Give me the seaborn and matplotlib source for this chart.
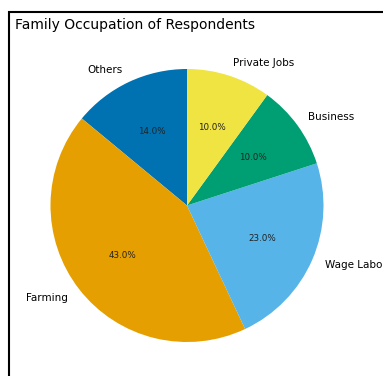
import matplotlib
matplotlib.use("Agg")
import matplotlib.pyplot as plt
import seaborn as sns
from matplotlib.patches import Rectangle

sns.set_style("white")
plt.rcParams['font.family'] = ['DejaVu Sans']
plt.rcParams['text.color'] = 'black'

categories = ["Others", "Farming", "Wage Labour", "Business", "Private Jobs"]
shares = [14.0, 43.0, 23.0, 10.0, 10.0]
colors = ["#0072B2", "#E69F00", "#56B4E9", "#009E73", "#F0E442"]

W, H = 383, 376
fig = plt.figure(figsize=(W / 100, H / 100), dpi=100)
fig.patch.set_facecolor("white")

L = 1.25
R = 136.5
cx, cy = 187, 205.5
aw = 2 * L * R
ax = fig.add_axes([(cx - aw / 2) / W, (H - cy - aw / 2) / H, aw / W, aw / H])
wedges, texts, autotexts = ax.pie(
    shares, labels=categories, colors=colors, startangle=90,
    autopct="%1.1f%%", pctdistance=0.6, labeldistance=1.1,
    textprops={"fontsize": 7.5, "color": "black"},
    wedgeprops={"linewidth": 0},
)
for t in autotexts:
    t.set_fontsize(6.3)
    t.set_color("#222222")
ax.set_xlim(-L, L)
ax.set_ylim(-L, L)
ax.set_aspect("equal")
ax.axis("off")

fig.text(15 / W, 1 - 25 / H, "Family Occupation of Respondents",
         fontsize=10, ha="left", va="center", color="black")

fig.patches.append(Rectangle((8.5 / W, -0.1), 1.2, (H - 11.5) / H + 0.1,
                             transform=fig.transFigure, fill=False,
                             lw=1.5, ec="black"))

fig.savefig("out.png", dpi=100)
